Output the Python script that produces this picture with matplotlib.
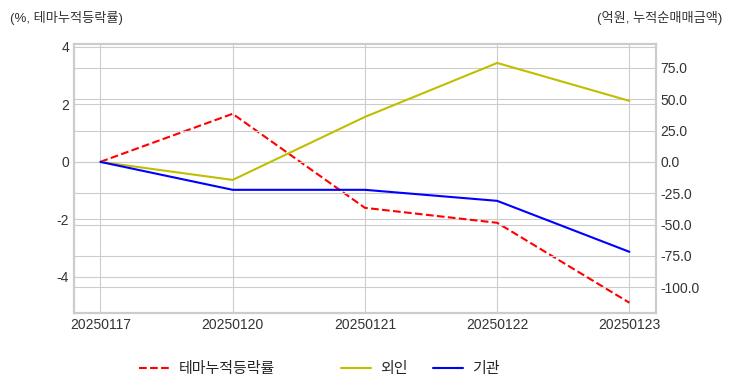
import matplotlib
matplotlib.use('Agg')
import matplotlib.pyplot as plt
import numpy as np

# data
dates = ['20250117', '20250120', '20250121', '20250122', '20250123']
theme_rate = [0.0, 1.67, -1.6, -2.12, -4.9]      # %, 테마누적등락률
foreign = [0.0, -14.4, 35.9, 79.0, 48.7]          # 억원, 외인
institution = [0.0, -22.3, -22.3, -31.1, -71.8]   # 억원, 기관

plt.style.use('seaborn-v0_8-whitegrid')
plt.rcParams['font.family'] = ['Liberation Sans', 'Noto Sans CJK KR']
plt.rcParams['axes.unicode_minus'] = False

fig = plt.figure(figsize=(7.32, 3.92), dpi=100)
ax = fig.add_axes([0.101, 0.202, 0.795, 0.686])
ax2 = ax.twinx()

x = np.arange(len(dates))
l1, = ax.plot(x, theme_rate, 'r--', lw=1.5, label='테마누적등락률')
l2, = ax2.plot(x, foreign, color='y', lw=1.5, label='외인')
l3, = ax2.plot(x, institution, color='b', lw=1.5, label='기관')

ax.set_xlim(-0.2, 4.2)
ax.set_ylim(-5.25, 4.1)
ax2.set_ylim(-120.5, 94.2)
ax.set_xticks(x)
ax.set_xticklabels(dates)
ax.set_yticks([-4, -2, 0, 2, 4])
ax2.set_yticks([-100, -75, -50, -25, 0, 25, 50, 75])
ax2.yaxis.set_major_formatter(matplotlib.ticker.FormatStrFormatter('%.1f'))

for a in (ax, ax2):
    a.tick_params(labelsize=10, colors='#333333', length=0)
    for s in a.spines.values():
        s.set_color('#cccccc')
        s.set_linewidth(1.5)
ax2.grid(True, color='#cccccc')
ax.grid(True, color='#cccccc')

fig.text(0.013, 0.955, '(%, 테마누적등락률)', fontsize=9.5, color='#333333', va='center')
fig.text(0.987, 0.955, '(억원, 누적순매매금액)', fontsize=9.5, color='#333333', va='center', ha='right')

fig.legend(handles=[l1], loc='center left', bbox_to_anchor=(0.171, 0.059),
           frameon=False, fontsize=10.8, handlelength=2.0, handletextpad=0.7)
fig.legend(handles=[l2, l3], loc='center left', bbox_to_anchor=(0.447, 0.059),
           frameon=False, ncol=2, fontsize=10.8, handlelength=2.0, handletextpad=0.6,
           columnspacing=1.7)

fig.savefig('out.png', dpi=100)
